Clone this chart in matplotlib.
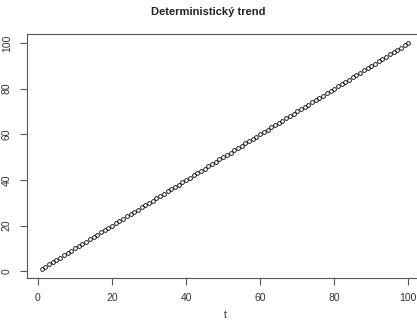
import numpy as np
import matplotlib
matplotlib.use("Agg")
import matplotlib.pyplot as plt

t = list(range(1, 101))
y = list(range(1, 101))
xticks = [0, 20, 40, 60, 80, 100]
yticks = [0, 20, 40, 60, 80, 100]

plt.rcParams['font.family'] = ['Liberation Sans', 'DejaVu Sans']
fig = plt.figure(figsize=(4.17, 3.2), dpi=100)
ax = fig.add_axes([27/417, (320-278)/320, (423-27)/417, (278-34)/320])
ax.plot(t, y, linestyle='none', marker='o', markersize=2.7, markerfacecolor='none',
        markeredgecolor='black', markeredgewidth=0.6)
ax.set_xlim(1 - 0.04*99, 100 + 0.04*99)
ax.set_ylim(1 - 0.04*99, 100 + 0.04*99)
ax.set_xticks(xticks)
ax.set_yticks(yticks)
axcol = '#555555'
for s in ax.spines.values():
    s.set_color(axcol)
    s.set_linewidth(0.8)
ax.tick_params(axis='both', direction='out', length=5, width=0.8, color=axcol,
               labelsize=7.5, labelcolor='#333333', pad=6)
for lab in ax.get_yticklabels():
    lab.set_rotation(90)
    lab.set_va('center')
fig.text(225/417, 1 - 315/320, 't', ha='center', va='center', fontsize=7.5, color='#333333')
fig.text(0.5, 1 - 12/320, 'Deterministický trend', ha='center', va='center',
         fontsize=8, fontweight='bold', color='#222222')
fig.savefig('out.png', dpi=100)
